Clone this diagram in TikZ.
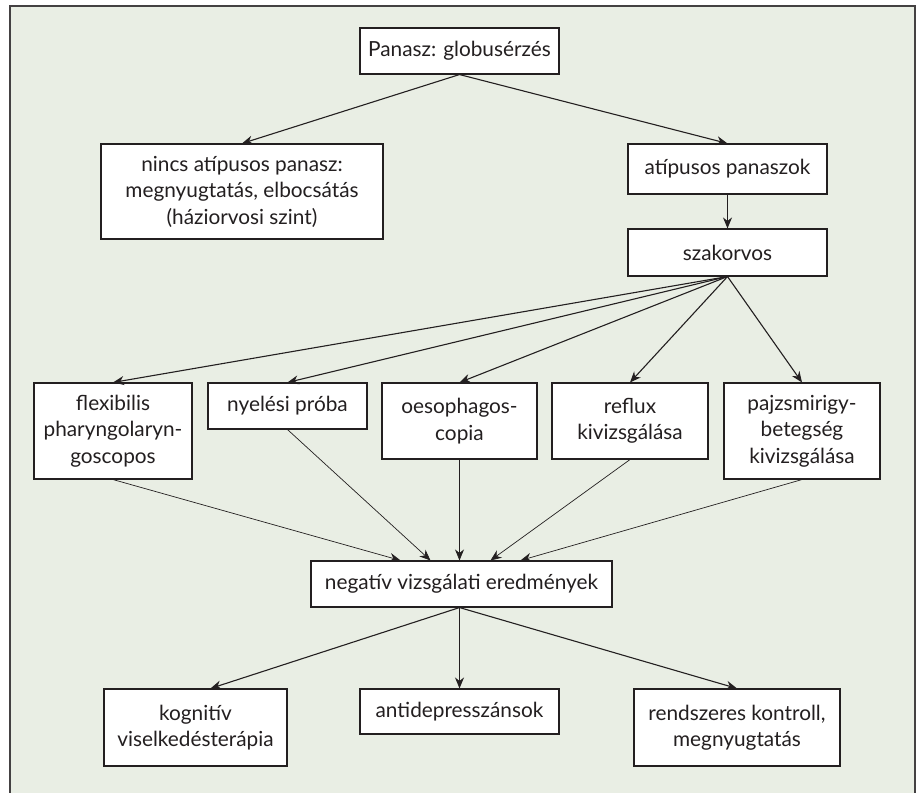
\documentclass[tikz,border=0pt]{standalone}
\usepackage{fontspec}
\setmainfont{Lato}
\usepackage{tikz}
\usetikzlibrary{arrows.meta}

\definecolor{bggreen}{RGB}{233,238,228}
\definecolor{ink}{RGB}{35,31,32}

\begin{document}
\begin{tikzpicture}[x=1pt,y=-1pt,
	box/.style={shape=rectangle,draw=ink,fill=white,line width=1.1pt,inner sep=0pt,
		align=center,text=ink,font=\fontsize{20.8}{26.5}\selectfont},
	arr/.style={draw=ink,line width=1.1pt,-{Stealth[length=11pt,width=9pt]}},
	thinarr/.style={draw=ink,line width=0.7pt,-{Stealth[length=11pt,width=9pt]}}]
	
	\useasboundingbox (0,0) rectangle (920,792);
	\fill[bggreen] (10,6) rectangle (915,800);
	\draw[ink!85,line width=1.2pt] (10,800) -- (10,6) -- (915,6) -- (915,800);
	
	\node[box,minimum width=199pt,minimum height=46pt] (panasz) at (459.5, 51)   {Panasz: globusérzés};
	\node[box,minimum width=282pt,minimum height=95pt] (nincs)  at (242, 191.5)  {nincs atípusos panasz:\\megnyugtatás, elbocsátás\\(háziorvosi szint)};
	\node[box,minimum width=199pt,minimum height=50pt] (atip)   at (727.5, 169)  {atípusos panaszok};
	\node[box,minimum width=199pt,minimum height=47pt] (szak)   at (727.5, 252.5) {szakorvos};
	\node[box,minimum width=158pt,minimum height=96pt] (flex)   at (113, 431)    {flexibilis\\pharyngolaryn-\\goscopos};
	\node[box,minimum width=159pt,minimum height=46pt] (nyel)   at (287.5, 406)  {nyelési próba};
	\node[box,minimum width=155pt,minimum height=76pt] (oeso)   at (459.5, 421)  {oesophagos-\\copia};
	\node[box,minimum width=156pt,minimum height=76pt] (reflux) at (630, 421)    {reflux\\kivizsgálása};
	\node[box,minimum width=156pt,minimum height=96pt] (pajzs)  at (802, 431)    {pajzsmirigy-\\betegség\\kivizsgálása};
	\node[box,minimum width=301pt,minimum height=46pt] (neg)    at (461.5, 584)  {negatív vizsgálati eredmények};
	\node[box,minimum width=183pt,minimum height=77pt] (kogn)   at (195.5, 727.5) {kognitív\\viselkedésterápia};
	\node[box,minimum width=199pt,minimum height=45pt] (anti)   at (459.5, 711.5) {antidepresszánsok};
	\node[box,minimum width=206pt,minimum height=77pt] (rend)   at (737, 727.5)  {rendszeres kontroll,\\megnyugtatás};
	
	\draw[arr] (panasz.south) -- (nincs.north);
	\draw[arr] (panasz.south) -- (atip.north);
	\draw[arr] (atip) -- (szak);
	\draw[arr] (szak.south) -- (flex.north);
	\draw[arr] (szak.south) -- (nyel.north);
	\draw[arr] (szak.south) -- (oeso.north);
	\draw[arr] (szak.south) -- (reflux.north);
	\draw[arr] (szak.south) -- (pajzs.north);
	\draw[thinarr] (flex.south)   -- ([xshift=-61pt]neg.north);
	\draw[thinarr] (nyel.south)   -- ([xshift=-31pt]neg.north);
	\draw[thinarr] (oeso.south)   -- ([xshift=-2pt]neg.north);
	\draw[thinarr] (reflux.south) -- ([xshift=29pt]neg.north);
	\draw[thinarr] (pajzs.south)  -- ([xshift=59pt]neg.north);
	\draw[arr] ([xshift=-2pt]neg.south) -- ([xshift=15pt]kogn.north);
	\draw[arr] ([xshift=-2pt]neg.south) -- (anti.north);
	\draw[arr] ([xshift=-2pt]neg.south) -- (rend.north);
	
\end{tikzpicture}
\end{document}
